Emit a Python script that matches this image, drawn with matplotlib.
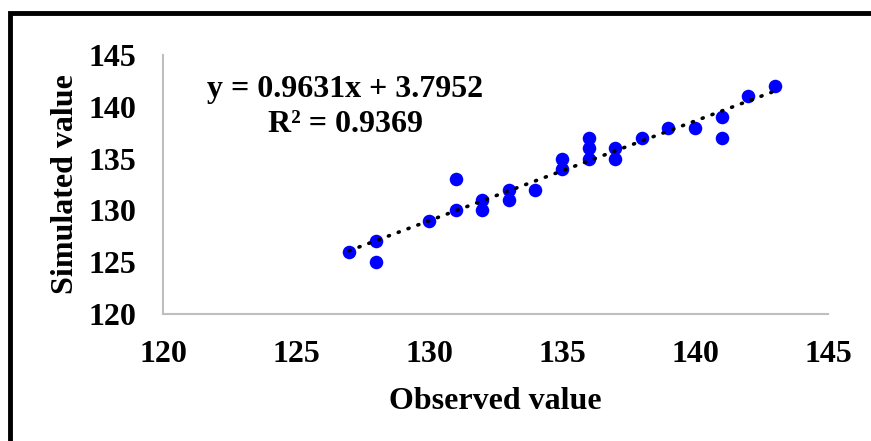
import matplotlib
matplotlib.use("Agg")
import matplotlib.pyplot as plt
from matplotlib.patches import Rectangle
import numpy as np

observed = [127, 128, 128, 130, 131, 131, 132, 132, 133, 133, 134, 135, 135,
            136, 136, 136, 137, 137, 138, 139, 140, 141, 141, 142, 143]
simulated = [126, 127, 125, 129, 130, 133, 131, 130, 132, 131, 132, 135, 134,
             137, 136, 135, 136, 135, 137, 138, 138, 139, 137, 141, 142]
slope = 0.9631
intercept = 3.7952
r2 = 0.9369
ticks = [120, 125, 130, 135, 140, 145]

plt.rcParams['font.family'] = ['Liberation Serif', 'DejaVu Serif']
plt.rcParams['font.weight'] = 'bold'

fig = plt.figure(figsize=(8.71, 4.41), dpi=100)
ax = fig.add_axes([163/871, 1-314/441, (828-163)/871, (314-55)/441])

# frame
fig.patches.append(Rectangle((10/871, -0.1), 1.2, 1 - 13/441 + 0.1,
                             transform=fig.transFigure, fill=False,
                             edgecolor='black', linewidth=3.5))

ax.scatter(observed, simulated, s=95, color='#0000FF', zorder=3, linewidths=0)
xs = np.array([min(observed), max(observed)])
ax.plot(xs, slope*xs + intercept, color='black', lw=2.6,
        linestyle=(0, (0.3, 2.6)), dash_capstyle='round', zorder=4)

ax.set_xlim(120, 145)
ax.set_ylim(120, 145)
ax.set_xticks(ticks)
ax.set_yticks(ticks)
ax.tick_params(axis='x', length=0, labelsize=23, pad=19)
ax.tick_params(axis='y', length=0, labelsize=23, pad=19)
for lab in ax.get_xticklabels() + ax.get_yticklabels():
    lab.set_fontweight('bold')
for s in ['top', 'right']:
    ax.spines[s].set_visible(False)
for s in ['left', 'bottom']:
    ax.spines[s].set_color('#BFBFBF')
    ax.spines[s].set_linewidth(1.5)

ax.set_xlabel('Observed value', fontsize=23, fontweight='bold', labelpad=13)
ax.set_ylabel('Simulated value', fontsize=23, fontweight='bold', labelpad=6)

ax.text(345/871, 1-90/441, f'y = {slope}x + {intercept}', transform=fig.transFigure,
        ha='center', va='center', fontsize=23, fontweight='bold')
ax.text(345/871, 1-125/441, f'R² = {r2}', transform=fig.transFigure,
        ha='center', va='center', fontsize=23, fontweight='bold')

fig.savefig('out.png', dpi=100)
